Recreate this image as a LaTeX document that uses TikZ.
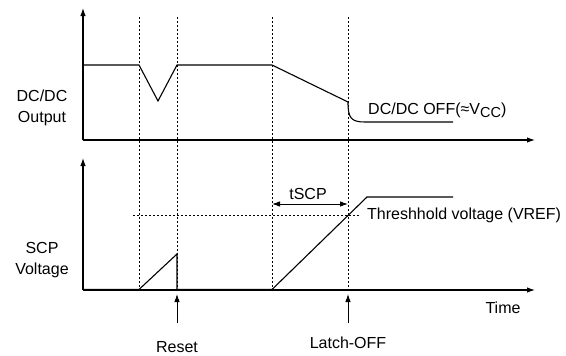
\documentclass[tikz,border=0pt]{standalone}
\usepackage{fontspec}
\setmainfont{Liberation Sans}
\usetikzlibrary{arrows.meta}
\begin{document}
\begin{tikzpicture}[x=1pt,y=-1pt,
  lbl/.style={font=\fontsize{16}{19}\selectfont, inner sep=0pt},
  axis/.style={line width=1.1pt,-{Latex[length=8pt,width=5.5pt]}},
  sig/.style={line width=1.1pt},
  guide/.style={line width=0.8pt, dash pattern=on 2pt off 2pt},
  marker/.style={line width=0.9pt,-{Latex[length=8pt,width=5.5pt]}}]
\useasboundingbox (0,0) rectangle (566,356);
% axes
\coordinate (o1) at (83,140);
\coordinate (y1) at (83,8);
\coordinate (x1) at (535,140);
\coordinate (o2) at (83,290);
\coordinate (y2) at (83,158);
\coordinate (x2) at (535,290);
\draw[axis] (o1) -- (y1);
\draw[axis] (o1) -- (x1);
\draw[axis] (o2) -- (y2);
\draw[axis] (o2) -- (x2);
% guides
\foreach \x/\n in {139/a,177/b,272/c,348/d}{
  \coordinate (t\n) at (\x,17);
  \coordinate (b\n) at (\x,290);
  \draw[guide] (t\n) -- (b\n);
}
\coordinate (th1) at (133,215.5);
\coordinate (th2) at (360,215.5);
\draw[guide] (th1) -- (th2);
% DC/DC output
\draw[sig] (83,65) -- (139,65) -- (158,101) -- (177,65) -- (272,65) -- (348,102)
  .. controls (348,118) and (351,122) .. (365,122) -- (453,122);
% SCP voltage
\draw[sig] (83,289.5) -- (139,289.5) -- (177,254) -- (177,289.5) -- (272,289.5) -- (367,197) -- (453,197);
% tSCP
\coordinate (ts1) at (272,204);
\coordinate (ts2) at (348,204);
\draw[line width=0.9pt,{Latex[length=8pt,width=5.5pt]}-{Latex[length=8pt,width=5.5pt]}] (ts1) -- (ts2);
% markers
\coordinate (r0) at (177,323);
\coordinate (r1) at (177,294);
\coordinate (l0) at (348,323);
\coordinate (l1) at (348,294);
\draw[marker] (r0) -- (r1);
\draw[marker] (l0) -- (l1);
% labels
\node[lbl, align=center] (dco) at (42,108) {DC/DC\\[2pt]Output};
\node[lbl, align=center] (scp) at (42,260) {SCP\\[2pt]Voltage};
\node[lbl, anchor=west] (off) at (368,110) {DC/DC OFF(≈V\raisebox{-3pt}{\fontsize{14.5}{16}\selectfont CC})};
\node[lbl] (tscp) at (308,194) {tSCP};
\node[lbl, anchor=west] (thr) at (367,215) {Threshhold voltage (VREF)};
\node[lbl] (time) at (503,308) {Time};
\node[lbl] (reset) at (177,347) {Reset};
\node[lbl] (latch) at (348,343) {Latch-OFF};
\end{tikzpicture}
\end{document}
